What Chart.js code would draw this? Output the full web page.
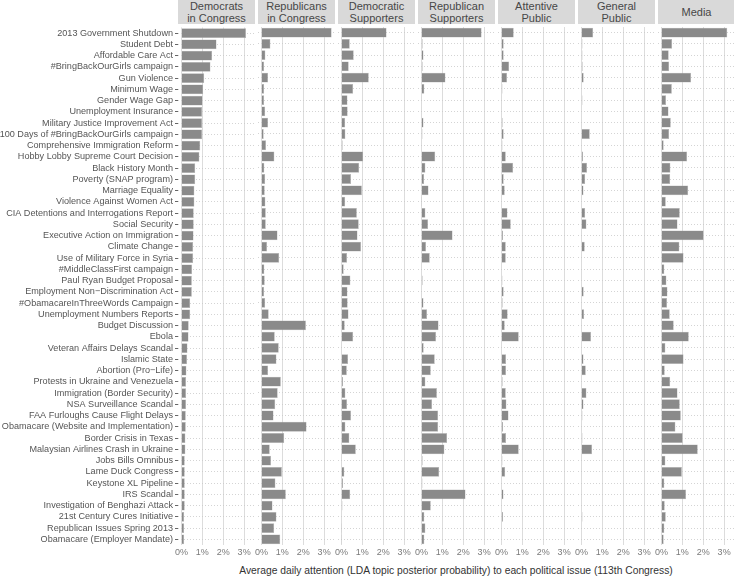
<!DOCTYPE html>
<html lang="en">
<head>
<meta charset="UTF-8">
<title>Attention to political issues</title>
<script src="https://cdn.jsdelivr.net/npm/chart.js@4.4.0/dist/chart.umd.min.js"></script>
<style>
  body { margin: 0; background: #fff; font-family: "Liberation Sans", Arial, sans-serif; }
  #wrap { position: relative; width: 734px; height: 578px; overflow: hidden; }
  #wrap canvas { position: absolute; }
  .strip { position: absolute; top: 0; height: 24px; background: #d9d9d9; color: #474747;
           font-size: 11px; line-height: 12px; display: flex; align-items: center;
           justify-content: center; text-align: center; }
  #xtitle { position: absolute; left: 178px; width: 556px; top: 565px; text-align: center;
            font-size: 10.3px; color: #333; }
</style>
</head>
<body>
<div id="wrap"><div id="xtitle">Average daily attention (LDA topic posterior probability) to each political issue (113th Congress)</div></div>
<script>
const issues = [
  '2013 Government Shutdown', 'Student Debt', 'Affordable Care Act', '#BringBackOurGirls campaign',
  'Gun Violence', 'Minimum Wage', 'Gender Wage Gap', 'Unemployment Insurance',
  'Military Justice Improvement Act', '100 Days of #BringBackOurGirls campaign',
  'Comprehensive Immigration Reform', 'Hobby Lobby Supreme Court Decision', 'Black History Month',
  'Poverty (SNAP program)', 'Marriage Equality', 'Violence Against Women Act',
  'CIA Detentions and Interrogations Report', 'Social Security', 'Executive Action on Immigration',
  'Climate Change', 'Use of Military Force in Syria', '#MiddleClassFirst campaign',
  'Paul Ryan Budget Proposal', 'Employment Non\u2212Discrimination Act', '#ObamacareInThreeWords Campaign',
  'Unemployment Numbers Reports', 'Budget Discussion', 'Ebola', 'Veteran Affairs Delays Scandal',
  'Islamic State', 'Abortion (Pro\u2212Life)', 'Protests in Ukraine and Venezuela',
  'Immigration (Border Security)', 'NSA Surveillance Scandal', 'FAA Furloughs Cause Flight Delays',
  'Obamacare (Website and Implementation)', 'Border Crisis in Texas', 'Malaysian Airlines Crash in Ukraine',
  'Jobs Bills Omnibus', 'Lame Duck Congress', 'Keystone XL Pipeline', 'IRS Scandal',
  'Investigation of Benghazi Attack', '21st Century Cures Initiative', 'Republican Issues Spring 2013',
  'Obamacare (Employer Mandate)'
];

const groups = [
  ['Democrats', 'in Congress'], ['Republicans', 'in Congress'], ['Democratic', 'Supporters'],
  ['Republican', 'Supporters'], ['Attentive', 'Public'], ['General', 'Public'], ['Media']
];

const xTicks = [0, 1, 2, 3];

// values in percent, same order as issues
const demCongress = [3.09, 1.68, 1.47, 1.39, 1.09, 1.04, 1.01, 0.99, 0.99, 0.99, 0.90, 0.86, 0.66, 0.66, 0.62, 0.62,
  0.59, 0.59, 0.58, 0.56, 0.56, 0.51, 0.50, 0.50, 0.42, 0.42, 0.35, 0.34, 0.29, 0.27, 0.24, 0.22, 0.22, 0.22, 0.21,
  0.21, 0.19, 0.19, 0.16, 0.16, 0.16, 0.16, 0.16, 0.13, 0.13, 0.13];
const repCongress = [3.36, 0.43, 0.19, 0.13, 0.32, 0.13, 0.13, 0.18, 0.32, 0.11, 0.22, 0.62, 0.14, 0.18, 0.16, 0.19,
  0.21, 0.21, 0.77, 0.27, 0.85, 0.14, 0.16, 0.13, 0.18, 0.35, 2.13, 0.64, 0.83, 0.72, 0.32, 0.93, 0.78, 0.66, 0.58,
  2.16, 1.09, 0.40, 0.46, 0.98, 0.67, 1.17, 0.53, 0.72, 0.61, 0.90];
const demSupporters = [2.16, 0.40, 0.59, 0.35, 1.31, 0.56, 0.29, 0.30, 0.18, 0.19, 0.06, 1.04, 0.85, 0.46, 0.98, 0.18,
  0.74, 0.83, 0.77, 0.94, 0.27, 0.11, 0.43, 0.29, 0.30, 0.34, 0.16, 0.56, 0.03, 0.32, 0.26, 0.08, 0.19, 0.27, 0.46,
  0.19, 0.38, 0.69, 0.03, 0.14, 0.08, 0.42, 0.05, 0.02, 0.01, 0.01];
const repSupporters = [2.88, 0.06, 0.10, 0.06, 1.15, 0.14, 0.03, 0.03, 0.10, 0.05, 0.02, 0.66, 0.19, 0.13, 0.34, 0.01,
  0.19, 0.32, 1.49, 0.22, 0.40, 0.02, 0.06, 0.03, 0.10, 0.27, 0.82, 0.70, 0.11, 0.64, 0.45, 0.19, 0.74, 0.51, 0.80,
  0.80, 1.23, 1.10, 0.06, 0.85, 0.05, 2.11, 0.45, 0.14, 0.19, 0.14];
const attentive = [0.59, 0.11, 0.11, 0.37, 0.27, 0.05, 0.03, 0.03, 0.06, 0.11, 0.05, 0.21, 0.56, 0.11, 0.16, 0.02,
  0.29, 0.45, 0.08, 0.21, 0.21, 0.02, 0.05, 0.11, 0.06, 0.30, 0.16, 0.83, 0.02, 0.22, 0.22, 0.06, 0.21, 0.24, 0.34,
  0.08, 0.22, 0.83, 0.05, 0.18, 0.02, 0.10, 0.02, 0.08, 0.02, 0.02];
const generalPublic = [0.56, 0.05, 0.05, 0.06, 0.11, 0.02, 0.05, 0.02, 0.03, 0.40, 0.02, 0.08, 0.27, 0.18, 0.10, 0.02,
  0.18, 0.24, 0.03, 0.16, 0.03, 0.02, 0.02, 0.11, 0.03, 0.13, 0.03, 0.46, 0.02, 0.10, 0.21, 0.02, 0.24, 0.10, 0.05,
  0.03, 0.05, 0.51, 0.02, 0.03, 0.02, 0.03, 0.02, 0.05, 0.02, 0.02];
const media = [3.15, 0.51, 0.35, 0.37, 1.42, 0.50, 0.22, 0.34, 0.45, 0.37, 0.11, 1.23, 0.43, 0.42, 1.28, 0.21,
  0.88, 0.77, 2.02, 0.86, 1.06, 0.14, 0.24, 0.29, 0.27, 0.40, 0.59, 1.31, 0.19, 1.06, 0.16, 0.42, 0.77, 0.88, 0.93,
  0.67, 1.02, 1.74, 0.19, 0.98, 0.14, 1.18, 0.16, 0.21, 0.14, 0.11];

const series = [demCongress, repCongress, demSupporters, repSupporters, attentive, generalPublic, media];

Chart.defaults.font.family = "'Liberation Sans', Arial, sans-serif";

const wrap = document.getElementById('wrap');
const LEFT0 = 178, STEP = 80, PANEL_W = 77;
const TOP = 20, HEIGHT = 540, PAD_TOP = 7, XAXIS_H = 15, PAD_L = 10;
const XMIN = -0.163, XMAX = 3.52;

series.forEach((vals, k) => {
  const first = k === 0;
  const left = LEFT0 + STEP * k;

  // strip header
  const strip = document.createElement('div');
  strip.className = 'strip';
  strip.style.left = left + 'px';
  strip.style.width = PANEL_W + 'px';
  strip.innerHTML = groups[k].join('<br>');
  wrap.appendChild(strip);

  const cv = document.createElement('canvas');
  const cvLeft = first ? 0 : left - PAD_L;
  const cvW = first ? left + PANEL_W : PANEL_W + PAD_L;
  cv.width = cvW; cv.height = HEIGHT;
  cv.style.left = cvLeft + 'px'; cv.style.top = TOP + 'px';
  cv.style.width = cvW + 'px'; cv.style.height = HEIGHT + 'px';
  wrap.appendChild(cv);

  new Chart(cv, {
    type: 'bar',
    data: {
      labels: issues,
      datasets: [{
        data: vals,
        backgroundColor: '#8a8a8a',
        borderColor: '#b5b5b5',
        borderWidth: 0.5,
        barPercentage: 0.87,
        categoryPercentage: 1
      }]
    },
    options: {
      indexAxis: 'y',
      responsive: false,
      animation: false,
      layout: { padding: { top: PAD_TOP, left: first ? 0 : PAD_L, right: 0, bottom: 0 } },
      plugins: { legend: { display: false }, tooltip: { enabled: false } },
      scales: {
        x: {
          type: 'linear', min: XMIN, max: XMAX,
          afterBuildTicks: s => { s.ticks = xTicks.map(v => ({ value: v })); },
          afterFit: s => { s.height = XAXIS_H; },
          ticks: { autoSkip: false, maxRotation: 0, padding: 2, color: '#7a7a7a', font: { size: 9 },
                   callback: v => v + '%' },
          grid: { color: '#dcdcdc', lineWidth: 1, drawTicks: false },
          border: { display: false }
        },
        y: {
          type: 'category',
          offset: true,
          afterFit: s => { s.width = first ? LEFT0 : 0; },
          ticks: { display: first, autoSkip: false, padding: 2, color: '#555', font: { size: 9.1 } },
          grid: { offset: false, color: '#c9c9c9', lineWidth: 0.8, drawTicks: first, tickLength: 3,
                  tickColor: '#666', tickWidth: 1, tickBorderDash: [] },
          border: { display: false, dash: [1, 2] }
        }
      }
    }
  });
});
</script>
</body>
</html>
